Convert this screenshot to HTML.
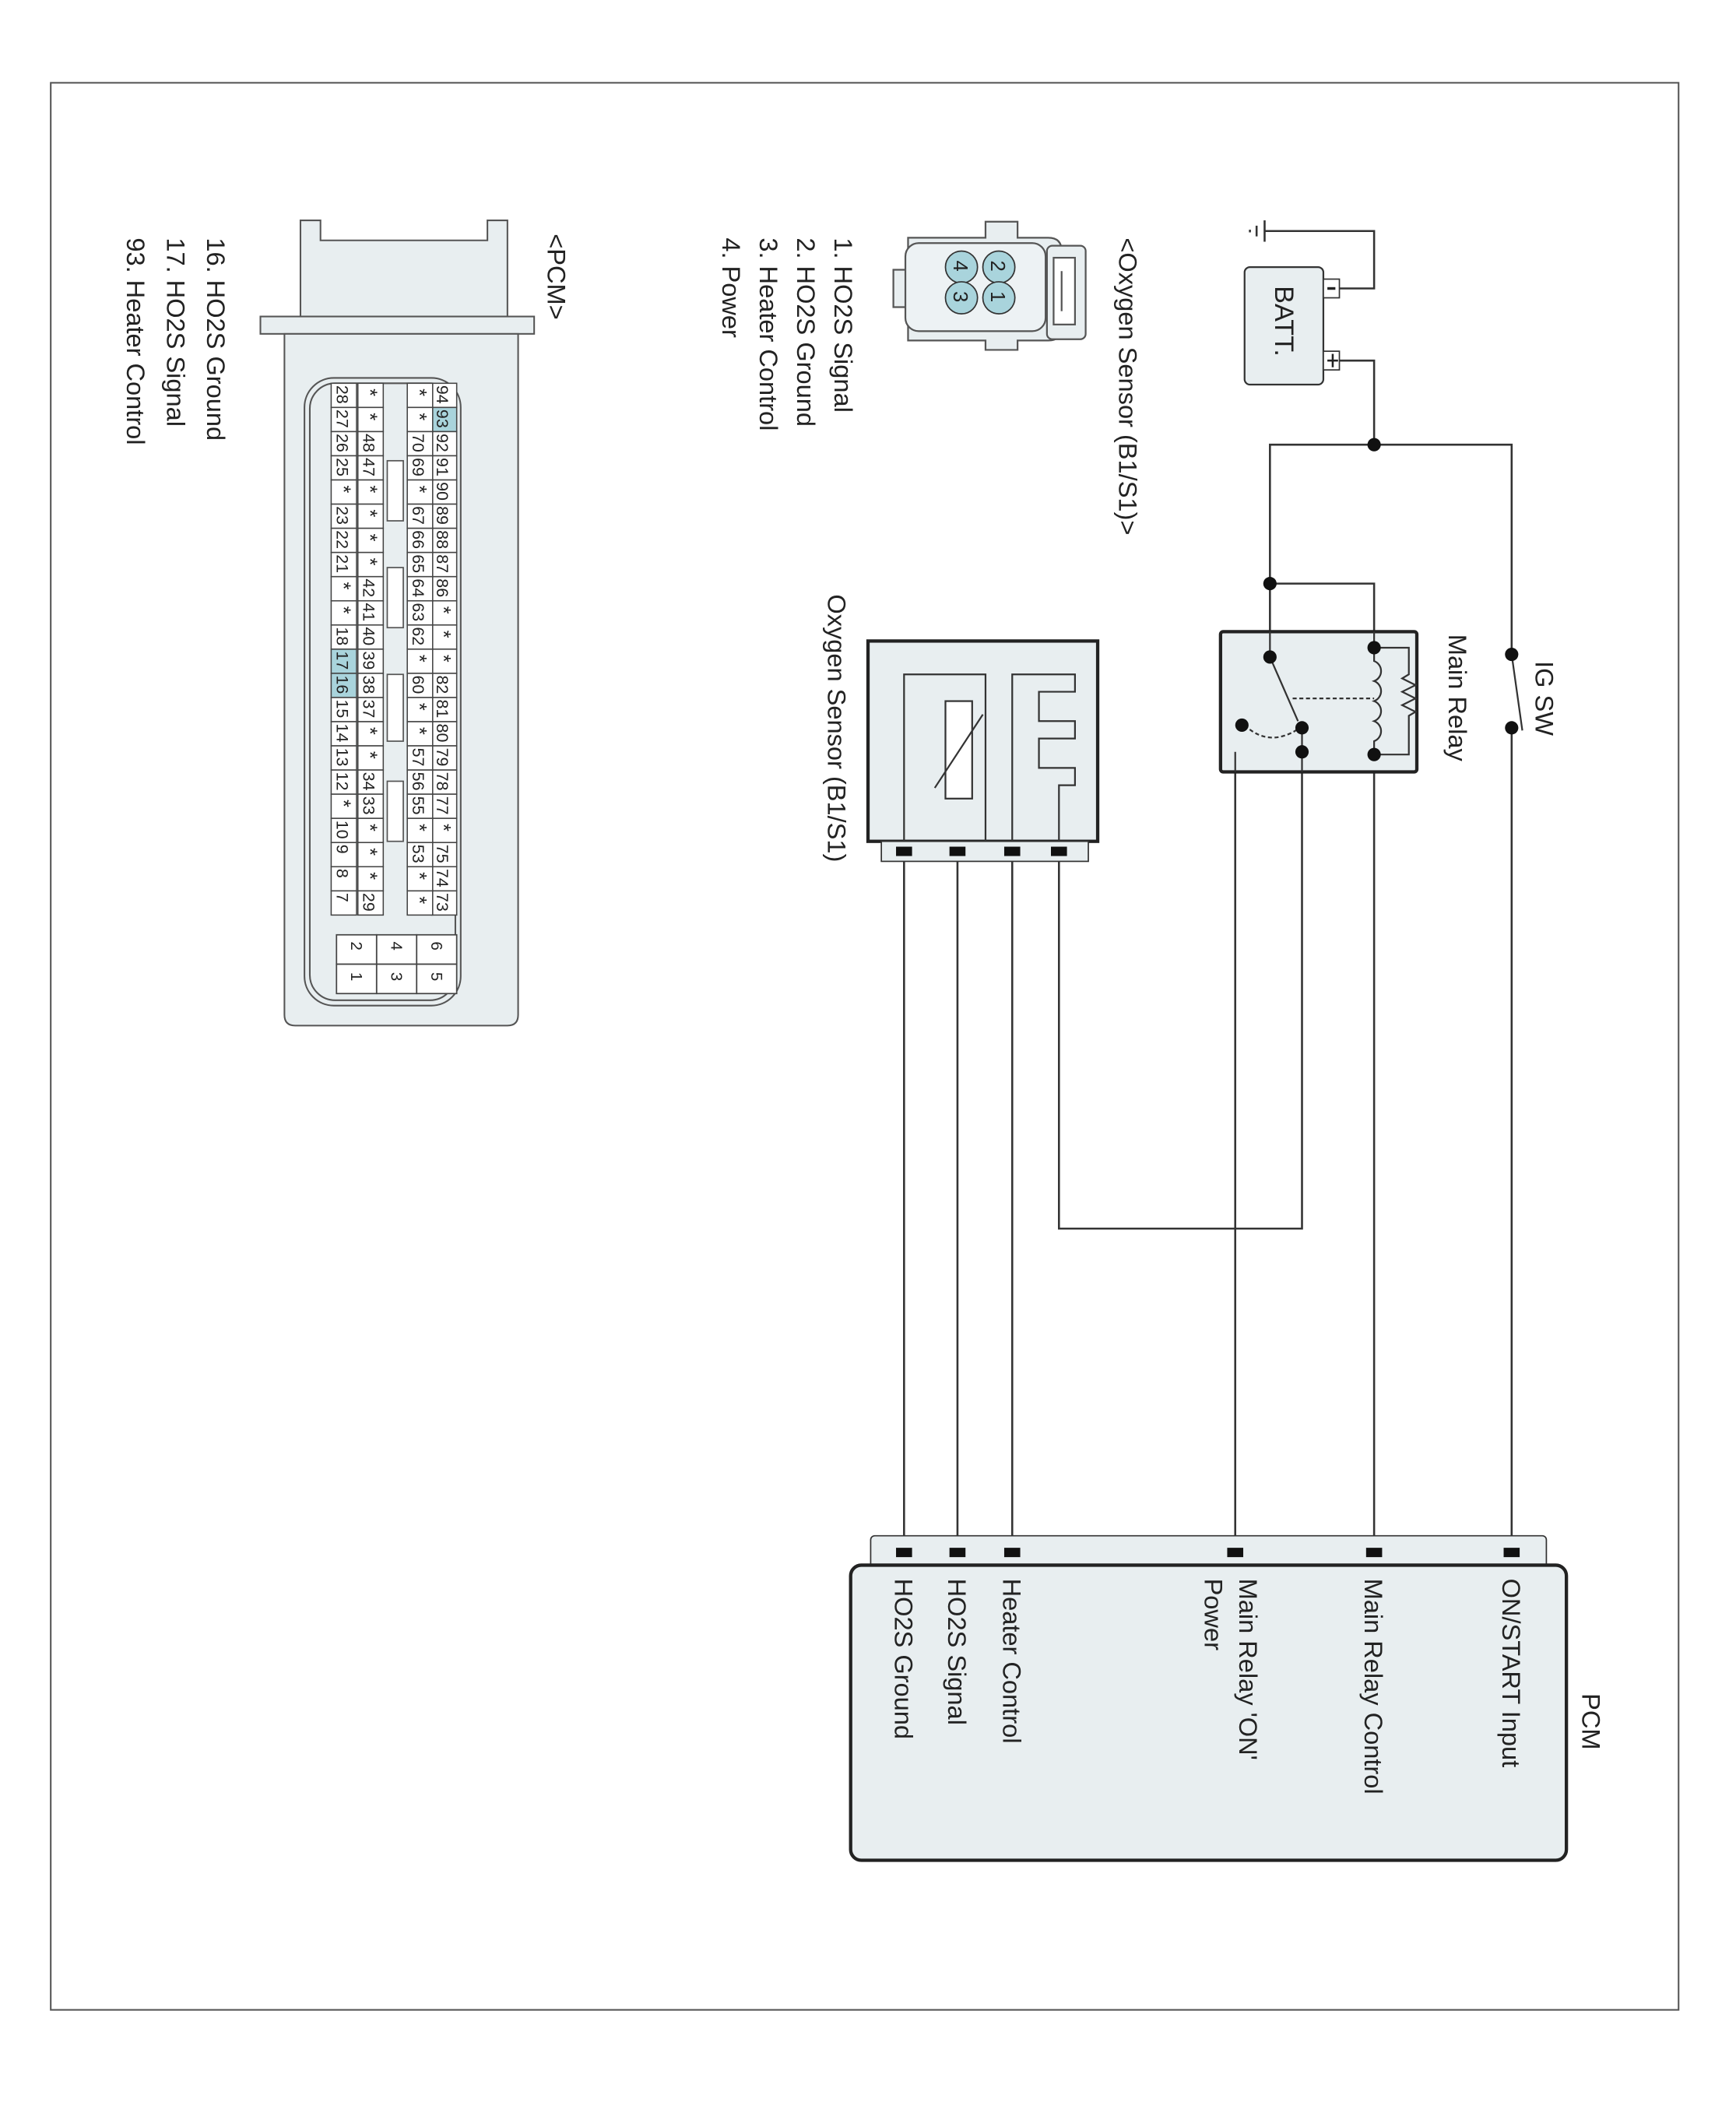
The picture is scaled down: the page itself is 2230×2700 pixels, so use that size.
<!DOCTYPE html>
<html><head><meta charset="utf-8"><style>
html,body{margin:0;padding:0;background:#fff}
svg{display:block}
text{font-family:"Liberation Sans",sans-serif;fill:#222}
</style></head><body>
<svg id="s" width="2230" height="2700" viewBox="0 0 1300 1574" preserveAspectRatio="none" xmlns="http://www.w3.org/2000/svg">
<rect x="38" y="62" width="1219" height="1443" fill="#fff" stroke="#555" stroke-width="1.2"/>
<g stroke="#333" stroke-width="1.5" fill="none">
<polyline points="1003,216 1029,216 1029,173 947,173"/>
<line x1="947" y1="165" x2="947" y2="181"/><line x1="941" y1="169" x2="941" y2="177"/><line x1="936" y1="172" x2="936" y2="174"/>
<polyline points="1003,270 1029,270 1029,333"/>
<polyline points="951,492 951,333 1132,333 1132,490"/>
<polyline points="951,437 1029,437 1029,485"/>
<polyline points="1132,545 1132,1162"/>
<line x1="1029" y1="565" x2="1029" y2="1162"/>
<polyline points="975,563 925,563 925,1162"/>
<polyline points="975,545 975,920 793,920 793,640"/>
<line x1="677" y1="640" x2="677" y2="1162"/>
<line x1="717" y1="640" x2="717" y2="1162"/>
<line x1="758" y1="640" x2="758" y2="1162"/>
</g>
<rect x="932" y="200" width="59" height="88" rx="4" fill="#e8eef0" stroke="#333" stroke-width="1.3"/>
<rect x="991" y="209" width="12" height="14" fill="#fff" stroke="#333"/>
<rect x="991" y="263" width="12" height="14" fill="#fff" stroke="#333"/>
<line x1="994" y1="216" x2="1000" y2="216" stroke="#222" stroke-width="2"/>
<line x1="994" y1="270" x2="1002" y2="270" stroke="#222" stroke-width="1.5"/><line x1="998" y1="265" x2="998" y2="275" stroke="#222" stroke-width="1.5"/>
<text transform="translate(955,214) rotate(90)" font-size="20">BATT.</text>
<rect x="914" y="473" width="147" height="105" rx="2" fill="#e8eef0" stroke="#222" stroke-width="2.5"/>
<g stroke="#333" stroke-width="1.3" fill="none">
<line x1="1029" y1="473" x2="1029" y2="485"/><line x1="951" y1="473" x2="951" y2="492"/>
<path d="M1029,485 L1029,495 a8,8 0 0 1 0,15 a8,8 0 0 1 0,15 a8,8 0 0 1 0,15 a8,8 0 0 1 0,15 L1029,565"/>
<polyline points="1029,485 1055,485 1055,505 1050,508 1060,513 1050,518 1060,523 1050,528 1060,533 1055,536 1055,565 1029,565"/>
<line x1="951" y1="492" x2="972" y2="540"/>
<line x1="968" y1="523" x2="1029" y2="523" stroke-dasharray="3,2"/>
<path d="M932,543 Q950,560 972,546" stroke-dasharray="3,2"/>
<line x1="975" y1="545" x2="975" y2="578"/><line x1="925" y1="563" x2="925" y2="578"/>
<line x1="1132" y1="490" x2="1140" y2="547"/>
</g>
<g fill="#111">
<circle cx="1029" cy="333" r="5"/><circle cx="951" cy="437" r="5"/>
<circle cx="1029" cy="485" r="5"/><circle cx="1029" cy="565" r="5"/>
<circle cx="951" cy="492" r="5"/><circle cx="975" cy="545" r="5"/><circle cx="975" cy="563" r="5"/><circle cx="930" cy="543" r="5"/>
<circle cx="1132" cy="490" r="5"/><circle cx="1132" cy="545" r="5"/>
</g>
<text transform="translate(1085,475) rotate(90)" font-size="19">Main Relay</text>
<text transform="translate(1150,495) rotate(90)" font-size="19">IG SW</text>
<rect x="650" y="480" width="172" height="150" fill="#e8eef0" stroke="#222" stroke-width="2.5"/>
<rect x="660" y="630" width="155" height="15" fill="#e8eef0" stroke="#333"/>
<g fill="#111"><rect x="671" y="634" width="12" height="7"/><rect x="711" y="634" width="12" height="7"/><rect x="752" y="634" width="12" height="7"/><rect x="787" y="634" width="12" height="7"/></g>
<g stroke="#333" stroke-width="1.3" fill="none">
<polyline points="677,630 677,505 738,505 738,630"/>
<rect x="708" y="525" width="20" height="73" fill="#fff"/>
<line x1="700" y1="590" x2="736" y2="535"/>
<polyline points="758,630 758,505 805,505 805,518 778,518 778,540 805,540 805,553 778,553 778,575 805,575 805,588 793,588 793,630"/>
</g>
<text transform="translate(620,445) rotate(90)" font-size="19">Oxygen Sensor (B1/S1)</text>
<rect x="652" y="1150" width="506" height="24" rx="3" fill="#e8eef0" stroke="#333"/>
<rect x="637" y="1172" width="536" height="221" rx="8" fill="#e8eef0" stroke="#222" stroke-width="2.5"/>
<g fill="#111"><rect x="671" y="1159" width="12" height="7"/><rect x="711" y="1159" width="12" height="7"/><rect x="752" y="1159" width="12" height="7"/><rect x="919" y="1159" width="12" height="7"/><rect x="1023" y="1159" width="12" height="7"/><rect x="1126" y="1159" width="12" height="7"/></g>
<g font-size="19">
<text transform="translate(1125,1182) rotate(90)">ON/START Input</text>
<text transform="translate(1022,1182) rotate(90)">Main Relay Control</text>
<text transform="translate(928,1182) rotate(90)">Main Relay 'ON'</text>
<text transform="translate(902,1182) rotate(90)">Power</text>
<text transform="translate(751,1182) rotate(90)">Heater Control</text>
<text transform="translate(710,1182) rotate(90)">HO2S  Signal</text>
<text transform="translate(670,1182) rotate(90)">HO2S  Ground</text>
<text transform="translate(1185,1268) rotate(90)">PCM</text>
</g>
<g font-size="19">
<text transform="translate(838,178) rotate(90)">&lt;Oxygen Sensor (B1/S1)&gt;</text>
<text transform="translate(625,178) rotate(90)">1. HO2S  Signal</text>
<text transform="translate(597,178) rotate(90)">2. HO2S  Ground</text>
<text transform="translate(569,178) rotate(90)">3. Heater Control</text>
<text transform="translate(541,178) rotate(90)">4. Power</text>
<text transform="translate(410,175) rotate(90)">&lt;PCM&gt;</text>
<text transform="translate(155,178) rotate(90)">16. HO2S  Ground</text>
<text transform="translate(125,178) rotate(90)">17. HO2S  Signal</text>
<text transform="translate(95,178) rotate(90)">93. Heater Control</text>
</g>
<!-- O2 connector -->
<g stroke="#555" stroke-width="1.3" fill="#e8eef0">
<path d="M680,178 L680,202 L669,202 L669,230 L680,230 L680,255 L738,255 L738,262 L762,262 L762,255 L785,255 Q795,255 795,245 L795,188 Q795,178 785,178 L762,178 L762,166 L738,166 L738,178 Z"/>
<rect x="678" y="182" width="105" height="66" rx="10" fill="#edf2f4"/>
<rect x="784" y="184" width="29" height="70" rx="4"/>
<rect x="789" y="193" width="16" height="50" fill="#fff"/>
<line x1="795" y1="203" x2="795" y2="233"/>
</g>
<g stroke="#333" stroke-width="1" fill="#a9d4dc">
<circle cx="748" cy="200" r="12"/><circle cx="748" cy="223" r="12"/><circle cx="720" cy="200" r="12"/><circle cx="720" cy="223" r="12"/>
</g>
<g font-size="15">
<text transform="translate(742,195) rotate(90)">2</text><text transform="translate(742,218) rotate(90)">1</text>
<text transform="translate(714,195) rotate(90)">4</text><text transform="translate(714,218) rotate(90)">3</text>
</g>
<!-- PCM connector -->
<g stroke="#555" stroke-width="1.2" fill="#e8eef0">
<path d="M225,237 L225,165 L240,165 L240,180 L365,180 L365,165 L380,165 L380,237 Z"/>
<rect x="195" y="237" width="205" height="13"/>
<path d="M213,250 L388,250 L388,760 Q388,768 380,768 L221,768 Q213,768 213,760 Z"/>
<rect x="228" y="283" width="117" height="470" rx="22" fill="none"/>
<rect x="232" y="287" width="109" height="462" rx="19" fill="none"/>
</g>
<g id="grid"></g>
</svg>
<script>
var g=document.getElementById('grid'),NS='http://www.w3.org/2000/svg';
function el(t,a){var e=document.createElementNS(NS,t);for(var k in a)e.setAttribute(k,a[k]);g.appendChild(e);return e;}
var cols=[
 {x:323,v:[94,93,92,91,90,89,88,87,86,'*','*','*',82,81,80,79,78,77,'*',75,74,73]},
 {x:305,v:['*','*',70,69,'*',67,66,65,64,63,62,'*',60,'*','*',57,56,55,'*',53,'*','*']},
 {x:268,v:['*','*',48,47,'*','*','*','*',42,41,40,39,38,37,'*','*',34,33,'*','*','*',29]},
 {x:248,v:[28,27,26,25,'*',23,22,21,'*','*',18,17,16,15,14,13,12,'*',10,9,8,7]}];
var y0=287,h=18.1;
cols.forEach(function(c){c.v.forEach(function(v,i){
 var hl=(v===93||v===17||v===16);
 el('rect',{x:c.x,y:y0+i*h,width:19,height:h,fill:hl?'#a9d4dc':'#fff',stroke:'#444','stroke-width':0.9});
 var t=el('text',{transform:'translate('+(c.x+4)+','+(y0+i*h+(v==='*'?4:1.5))+') rotate(90)','font-size':v==='*'?15:12.5});
 t.textContent=v;});});
[[345,390],[425,470],[505,555],[585,630]].forEach(function(r){el('rect',{x:290,y:r[0],width:12,height:r[1]-r[0],fill:'#fff',stroke:'#555'});});
var sm=[[312,'6','5'],[282,'4','3'],[252,'2','1']];
sm.forEach(function(s){
 el('rect',{x:s[0],y:700,width:30,height:22,fill:'#fff',stroke:'#444'});
 el('rect',{x:s[0],y:722,width:30,height:22,fill:'#fff',stroke:'#444'});
 var a=el('text',{transform:'translate('+(s[0]+11)+',705) rotate(90)','font-size':12});a.textContent=s[1];
 var b=el('text',{transform:'translate('+(s[0]+11)+',728) rotate(90)','font-size':12});b.textContent=s[2];
});
</script>
</body></html>
